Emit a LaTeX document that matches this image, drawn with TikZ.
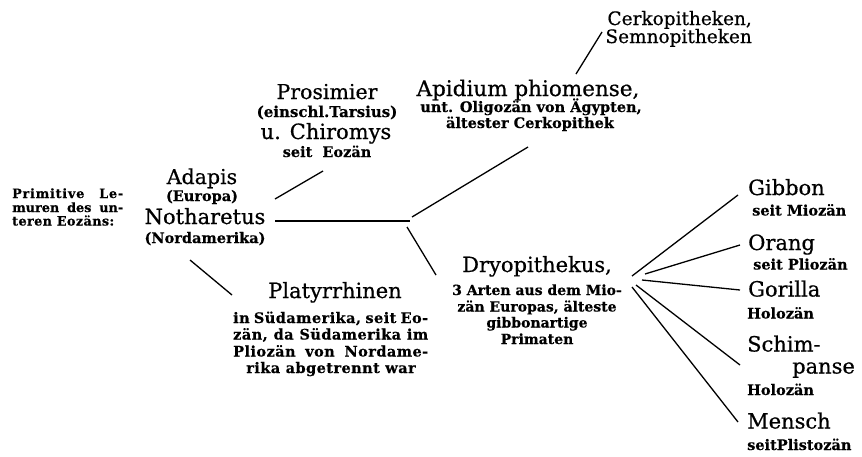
\documentclass[tikz,border=0pt]{standalone}
\usepackage{fontspec}
\setmainfont{DejaVu Serif}[BoldFeatures={FakeBold=0.4}]
\newfontfamily\namefont{DejaVu Serif}[FakeBold=0.6]
\begin{document}
\begin{tikzpicture}[x=1pt,y=-1pt,
  big/.style={inner sep=0pt, anchor=base, font=\namefont\fontsize{21}{24}\selectfont},
  mid/.style={inner sep=0pt, anchor=base east, font=\namefont\fontsize{18.5}{21}\selectfont},
  small/.style={inner sep=0pt, anchor=base, font=\bfseries\fontsize{14.5}{16}\selectfont},
  lft/.style={anchor=base west},
  branch/.style={line width=1.3pt}]
\useasboundingbox[fill=white] (0,0) rectangle (862,456);

% primitive lemurs
\tikzset{lemur/.style={small,lft,font=\bfseries\fontsize{12.8}{14}\selectfont}}
\node[lemur] (lem1) at (12,198) {\addfontfeature{LetterSpace=6}\makebox[111pt][s]{Primitive Le-}};
\node[lemur] (lem2) at (12,212) {\makebox[111pt][s]{muren des un-}};
\node[lemur] (lem3) at (12,225.5) {\addfontfeature{LetterSpace=3}teren Eozäns:};

% Adapis / Notharetus
\node[big,font=\namefont\fontsize{20.5}{24}\selectfont] (adapis) at (202,184) {Adapis};
\node[small] (europa) at (202,201) {(Europa)};
\node[big] (notharetus) at (205,224) {Notharetus};
\node[small] (nordam) at (205,243) {(Nordamerika)};

% Prosimier
\node[big,font=\namefont\fontsize{20.5}{24}\selectfont] (prosimier) at (327,99) {Prosimier};
\node[small,font=\bfseries\fontsize{15}{16}\selectfont] (tarsius) at (327,117) {(einschl.Tarsius)};
\node[big] (chiromys) at (326,139) {u. Chiromys};
\node[small] (prosage) at (327,157) {seit\ \ Eozän};

% Apidium
\node[big,font=\namefont\fontsize{21.5}{24}\selectfont] (apidium) at (528,96) {Apidium phiomense,};
\node[small] (apid2) at (531,112) {unt. Oligozän von Ägypten,};
\node[small] (apid3) at (530,128) {ältester Cerkopithek};

% Cerkopitheken
\node[mid] (cerko) at (752,25) {Cerkopitheken,};
\node[mid] (semno) at (752,43) {Semnopitheken};

% Platyrrhinen
\tikzset{platynote/.style={small,lft,font=\bfseries\fontsize{14.5}{16}\selectfont\addfontfeature{LetterSpace=3}}}
\node[big] (platy) at (335,298) {Platyrrhinen};
\node[platynote] (platy1) at (233,323) {\makebox[195pt][s]{in Südamerika, seit Eo-}};
\node[platynote] (platy2) at (233,339.5) {\makebox[195pt][s]{zän, da Südamerika im}};
\node[platynote] (platy3) at (233,356.5) {\makebox[195pt][s]{Pliozän von Nordame-}};
\node[platynote,anchor=base] (platy4) at (331,373) {rika abgetrennt war};

% Dryopithekus
\tikzset{dryonote/.style={small,font=\bfseries\fontsize{14}{16}\selectfont}}
\node[big] (dryo) at (537,272) {Dryopithekus,};
\node[dryonote] (dryo1) at (537,295) {3 Arten aus dem Mio-};
\node[dryonote] (dryo2) at (537,311.5) {zän Europas, älteste};
\node[dryonote] (dryo3) at (537,327.5) {gibbonartige};
\node[dryonote] (dryo4) at (537,344) {Primaten};

% great apes and man
\node[big,lft] (gibbon) at (748,195) {Gibbon};
\node[small,lft] (gibbonage) at (752,215.5) {seit Miozän};
\node[big,lft] (orang) at (748,250) {Orang};
\node[small,lft] (orangage) at (753,269.5) {seit Pliozän};
\node[big,lft] (gorilla) at (748,296.5) {Gorilla};
\node[small,lft] (gorillaage) at (747,318.5) {Holozän};
\node[big,lft] (schim) at (747,351.5) {Schim-};
\node[big,lft] (panse) at (792,373.5) {panse};
\node[small,lft] (schimage) at (747,395) {Holozän};
\node[big,lft] (mensch) at (747,428.5) {Mensch};
\node[small,lft] (menschage) at (747,450) {seitPlistozän};

% branch end points
\coordinate (ad-up) at (275,199);
\coordinate (pro-lo) at (323,171);
\coordinate (no-r) at (275,221);
\coordinate (fork) at (410,221);
\coordinate (fork-up) at (412,217);
\coordinate (apid-lo) at (528,147);
\coordinate (fork-dn) at (407,227);
\coordinate (dryo-up) at (436,275);
\coordinate (ad-dn) at (190,260);
\coordinate (platy-up) at (232,295);
\coordinate (apid-up) at (576,74);
\coordinate (cerko-lo) at (602,32);
\coordinate (f1) at (632,276);
\coordinate (f2) at (645,274);
\coordinate (f3) at (642,280);
\coordinate (f4) at (636,285);
\coordinate (f5) at (632,287);
\coordinate (gibbon-w) at (738,195);
\coordinate (orang-w) at (740,245);
\coordinate (gorilla-w) at (740,290);
\coordinate (schim-w) at (740,365);
\coordinate (mensch-w) at (738,422);

\draw[branch] (ad-up) -- (pro-lo);
\draw[branch] (no-r) -- (fork);
\draw[branch] (fork-up) -- (apid-lo);
\draw[branch] (fork-dn) -- (dryo-up);
\draw[branch] (ad-dn) -- (platy-up);
\draw[branch] (apid-up) -- (cerko-lo);
\draw[branch] (f1) -- (gibbon-w);
\draw[branch] (f2) -- (orang-w);
\draw[branch] (f3) -- (gorilla-w);
\draw[branch] (f4) -- (schim-w);
\draw[branch] (f5) -- (mensch-w);
\end{tikzpicture}
\end{document}
